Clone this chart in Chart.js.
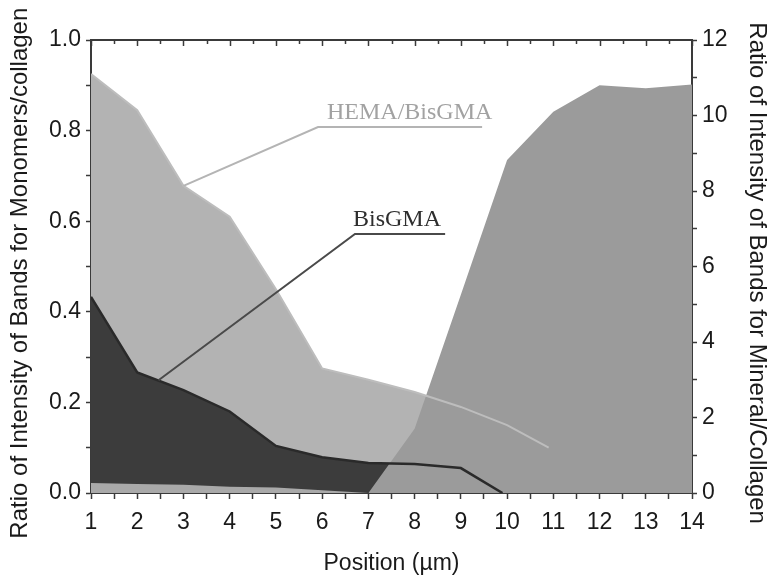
<!DOCTYPE html>
<html>
<head>
<meta charset="utf-8">
<script src="https://cdn.jsdelivr.net/npm/chart.js@4.4.1/dist/chart.umd.min.js"></script>
<style>
    html, body { margin: 0; padding: 0; background: #fff; }
    #wrap { width: 777px; height: 584px; }
</style>
</head>
<body>
<div id="wrap"><canvas id="chart" width="777" height="584"></canvas></div>
<script>
// values
const hemaX = [1, 2, 3, 4, 5, 6, 7, 8, 9, 10, 10.9];
const hemaY = [0.925, 0.845, 0.678, 0.61, 0.45, 0.275, 0.25, 0.223, 0.19, 0.15, 0.10];

const bisX = [1, 2, 3, 4, 5, 6, 7, 8, 9, 9.9];
const bisY = [0.433, 0.266, 0.227, 0.18, 0.104, 0.079, 0.066, 0.064, 0.055, 0];

const baseX = [1, 2, 3, 4, 5, 6, 7];
const baseY = [0.022, 0.02, 0.018, 0.014, 0.012, 0.006, 0];

const mineralX = [7, 8, 9, 10, 11, 12, 13, 14];
const mineralY = [0, 1.7, 5.25, 8.82, 10.1, 10.8, 10.72, 10.82];

const xTicks = [1, 2, 3, 4, 5, 6, 7, 8, 9, 10, 11, 12, 13, 14];
const leftTicks = [0.0, 0.2, 0.4, 0.6, 0.8, 1.0];
const rightTicks = [0, 2, 4, 6, 8, 10, 12];

const toPoints = (xs, ys) => xs.map((x, i) => ({ x, y: ys[i] }));

const SANS = '"Liberation Sans", Arial, sans-serif';
const SERIF = '"Liberation Serif", "Times New Roman", serif';
const AXIS = '#3a3a3a';
const INK = '#1a1a1a';

// callout labels with leader lines (HEMA/BisGMA, BisGMA)
const callouts = {
    id: 'callouts',
    afterDatasetsDraw(chart) {
        const { ctx, scales } = chart;
        const x = scales.x;
        const y = scales.y;
        const notes = [
            { text: 'HEMA/BisGMA', from: [3, 0.678], start: 5.91, end: 9.46, level: 0.808, textX: 6.105, line: '#b4b4b4', ink: '#a2a2a2' },
            { text: 'BisGMA', from: [2.46, 0.249], start: 6.71, end: 8.66, level: 0.572, textX: 6.667, line: '#4a4a4a', ink: '#2e2e2e' },
        ];
        ctx.save();
        notes.forEach((n) => {
            const ly = y.getPixelForValue(n.level);
            ctx.strokeStyle = n.line;
            ctx.lineWidth = 2;
            ctx.beginPath();
            ctx.moveTo(x.getPixelForValue(n.from[0]), y.getPixelForValue(n.from[1]));
            ctx.lineTo(x.getPixelForValue(n.start), ly);
            ctx.lineTo(x.getPixelForValue(n.end), ly);
            ctx.stroke();
            ctx.fillStyle = n.ink;
            ctx.font = `24px ${SERIF}`;
            ctx.textAlign = 'left';
            ctx.textBaseline = 'alphabetic';
            ctx.fillText(n.text, x.getPixelForValue(n.textX), ly - 8);
        });
        ctx.restore();
    },
};

// frame on top plus inward tick marks along the top edge
const topFrame = {
    id: 'topFrame',
    afterDraw(chart) {
        const { ctx, chartArea, scales } = chart;
        ctx.save();
        ctx.strokeStyle = AXIS;
        ctx.lineWidth = 2;
        ctx.beginPath();
        ctx.moveTo(chartArea.left, chartArea.top);
        ctx.lineTo(chartArea.right, chartArea.top);
        ctx.stroke();
        ctx.lineWidth = 1.5;
        for (let v = 1; v <= 14; v += 0.5) {
            const px = Math.round(scales.x.getPixelForValue(v)) + 0.5;
            ctx.beginPath();
            ctx.moveTo(px, chartArea.top);
            ctx.lineTo(px, chartArea.top + (Number.isInteger(v) ? 6 : 4));
            ctx.stroke();
        }
        ctx.restore();
    },
};

new Chart(document.getElementById('chart'), {
    type: 'line',
    data: {
        datasets: [
            {
                label: 'HEMA/BisGMA line',
                data: toPoints(hemaX, hemaY),
                yAxisID: 'y',
                borderColor: '#bdbdbd',
                borderWidth: 2,
                pointRadius: 0,
                fill: false,
                tension: 0,
                order: 0,
            },
            {
                label: 'BisGMA line',
                data: toPoints(bisX, bisY),
                yAxisID: 'y',
                borderColor: '#2a2a2a',
                borderWidth: 2.5,
                pointRadius: 0,
                fill: false,
                tension: 0,
                order: 1,
            },
            {
                label: 'Mineral/Collagen',
                data: toPoints(mineralX, mineralY),
                yAxisID: 'y1',
                backgroundColor: '#9b9b9b',
                borderWidth: 0,
                pointRadius: 0,
                fill: 'origin',
                tension: 0,
                order: 2,
            },
            {
                label: 'base',
                data: toPoints(baseX, baseY),
                yAxisID: 'y',
                backgroundColor: '#a9a9a9',
                borderWidth: 0,
                pointRadius: 0,
                fill: 'origin',
                tension: 0,
                order: 3,
            },
            {
                label: 'BisGMA',
                data: toPoints(bisX, bisY),
                yAxisID: 'y',
                backgroundColor: '#3c3c3c',
                borderWidth: 0,
                pointRadius: 0,
                fill: 'origin',
                tension: 0,
                order: 4,
            },
            {
                label: 'HEMA/BisGMA',
                data: toPoints(hemaX, hemaY),
                yAxisID: 'y',
                backgroundColor: '#b3b3b3',
                borderWidth: 0,
                pointRadius: 0,
                fill: 'origin',
                tension: 0,
                order: 5,
            },
        ],
    },
    options: {
        responsive: false,
        animation: false,
        events: [],
        layout: { padding: { top: 40, left: 0, right: 0, bottom: 0 } },
        plugins: {
            legend: { display: false },
            tooltip: { enabled: false },
        },
        scales: {
            x: {
                type: 'linear',
                position: 'bottom',
                min: 1,
                max: 14,
                afterFit: (s) => { s.height = 91; },
                afterBuildTicks: (s) => {
                    s.ticks = [];
                    for (let v = 1; v <= 14; v += 0.5) s.ticks.push({ value: v });
                },
                ticks: {
                    autoSkip: false,
                    maxRotation: 0,
                    padding: 10,
                    color: INK,
                    font: { family: SANS, size: 23 },
                    callback: (v) => (xTicks.includes(v) ? String(v) : ''),
                },
                grid: {
                    drawOnChartArea: false,
                    tickLength: 6,
                    tickWidth: 1.5,
                    tickColor: AXIS,
                },
                border: { color: AXIS, width: 2 },
                title: {
                    display: true,
                    text: 'Position (\u00b5m)',
                    color: INK,
                    font: { family: SANS, size: 23 },
                    padding: { top: 0, bottom: 7 },
                },
            },
            y: {
                type: 'linear',
                position: 'left',
                min: 0,
                max: 1,
                afterFit: (s) => { s.width = 91; },
                afterBuildTicks: (s) => {
                    s.ticks = [];
                    for (let i = 0; i <= 10; i++) s.ticks.push({ value: i / 10 });
                },
                ticks: {
                    autoSkip: false,
                    padding: 5,
                    color: INK,
                    font: { family: SANS, size: 23 },
                    callback: (v) => (leftTicks.some((t) => Math.abs(t - v) < 1e-9) ? v.toFixed(1) : ''),
                },
                grid: {
                    drawOnChartArea: false,
                    tickLength: 5,
                    tickWidth: 1.5,
                    tickColor: AXIS,
                },
                border: { color: AXIS, width: 2 },
                title: {
                    display: true,
                    text: 'Ratio of Intensity of Bands for Monomers/collagen  ',
                    color: INK,
                    font: { family: SANS, size: 24 },
                    padding: { top: 6, bottom: 0 },
                },
            },
            y1: {
                type: 'linear',
                position: 'right',
                min: 0,
                max: 12,
                afterFit: (s) => { s.width = 85; },
                afterBuildTicks: (s) => {
                    s.ticks = [];
                    for (let v = 0; v <= 12; v++) s.ticks.push({ value: v });
                },
                ticks: {
                    autoSkip: false,
                    padding: 5,
                    color: INK,
                    font: { family: SANS, size: 23 },
                    callback: (v) => (rightTicks.includes(v) ? String(v) : ''),
                },
                grid: {
                    drawOnChartArea: false,
                    tickLength: 5,
                    tickWidth: 1.5,
                    tickColor: AXIS,
                },
                border: { color: AXIS, width: 2 },
                title: {
                    display: true,
                    text: '  Ratio of Intensity of Bands for Mineral/Collagen',
                    color: INK,
                    font: { family: SANS, size: 24 },
                    padding: { top: 6, bottom: 0 },
                },
            },
        },
    },
    plugins: [callouts, topFrame],
});
</script>
</body>
</html>
